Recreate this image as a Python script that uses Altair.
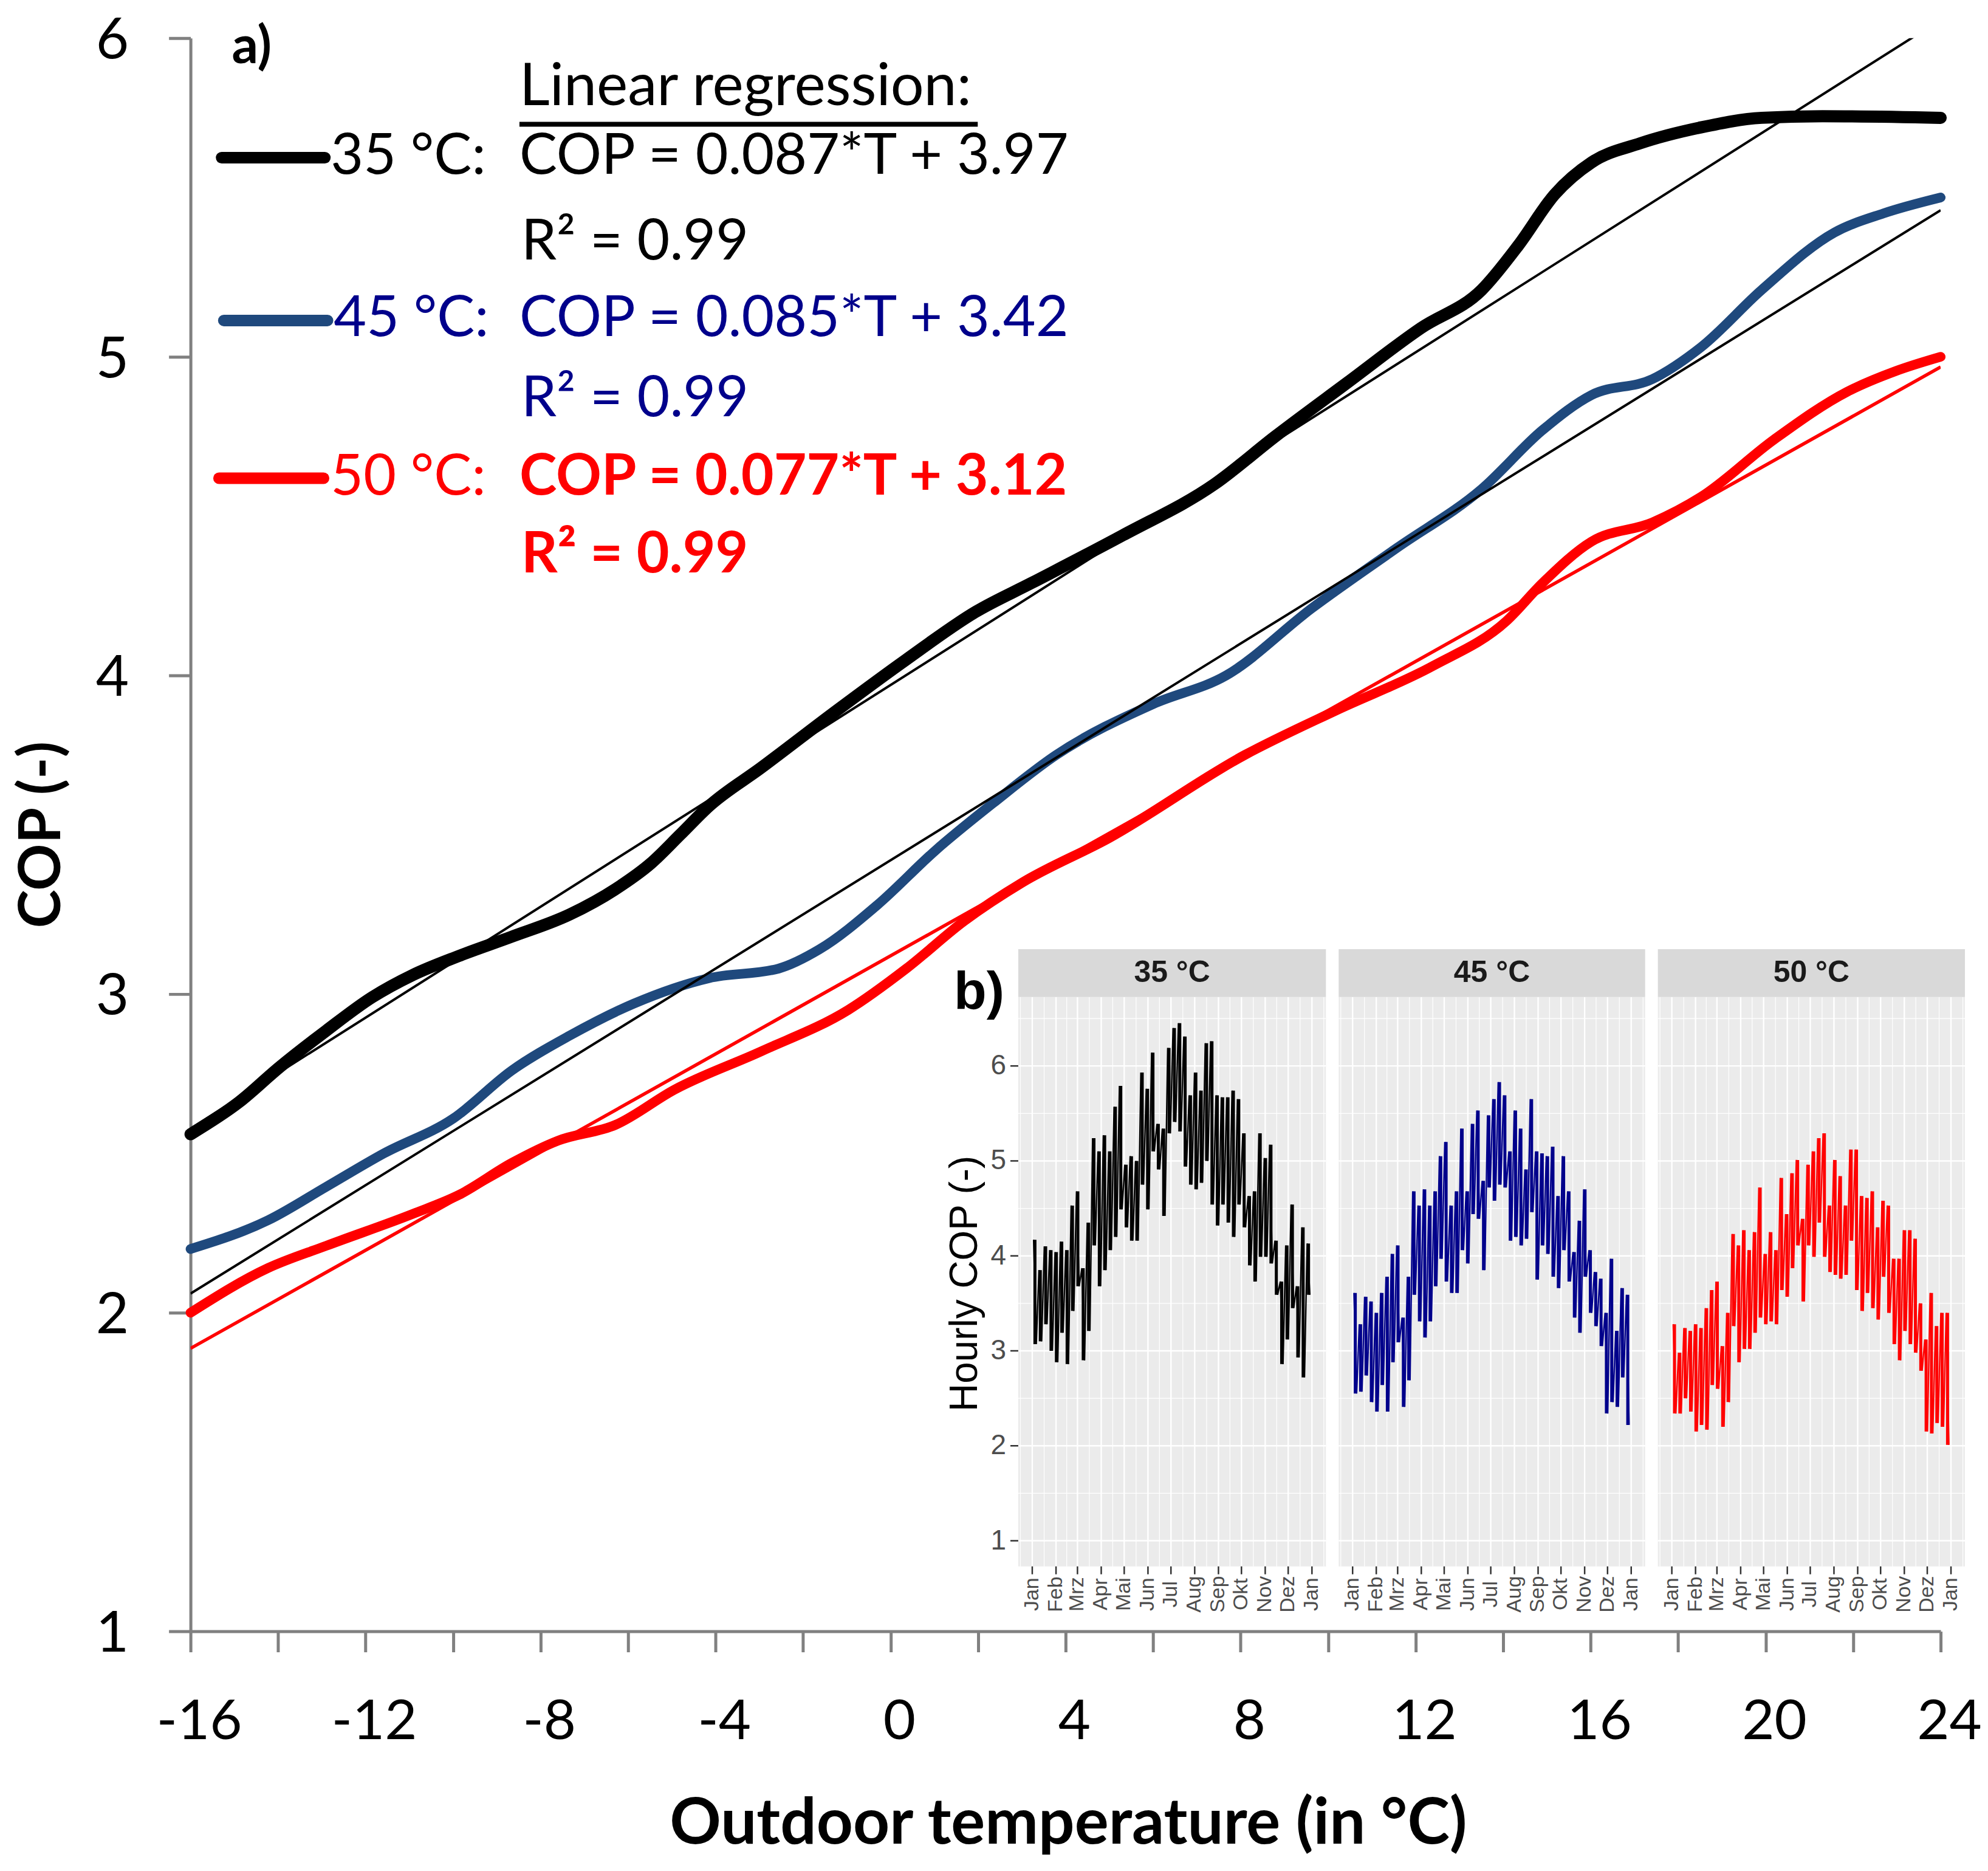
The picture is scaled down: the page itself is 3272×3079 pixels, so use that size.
import altair as alt
import pandas as pd

# ---------------- main panel a): COP curves ----------------
T35 = [-16, -14.9, -13.97, -12.9, -11.85, -10.92, -9.86, -8.66, -7.33, -6.28, -5.48, -4.81, -4.15,
       -2.96, -1.23, 0.36, 1.95, 3.22, 5.31, 7.40, 8.79, 10.45, 12.12, 13.51, 14.35, 15.18, 16.02,
       17.13, 18.52, 19.91, 21.30, 24]
COP35 = [2.56, 2.66, 2.77, 2.885, 2.99, 3.06, 3.12, 3.18, 3.25, 3.33, 3.41, 3.50, 3.59,
         3.71, 3.89, 4.05, 4.20, 4.29, 4.44, 4.60, 4.75, 4.92, 5.09, 5.21, 5.35, 5.51, 5.61,
         5.67, 5.72, 5.75, 5.755, 5.75]

T45 = [-16, -14.23, -12.9, -11.58, -9.99, -8.66, -7.33, -5.87, -4.15, -2.56, -1.63, -0.30, 1.02,
       2.35, 3.78, 6.0, 7.67, 9.62, 11.57, 13.51, 14.90, 16.02, 17.41, 18.52, 19.91, 21.57, 22.69, 24]
COP45 = [2.20, 2.29, 2.395, 2.50, 2.61, 2.76, 2.87, 2.97, 3.05, 3.08, 3.14, 3.28, 3.45,
         3.60, 3.75, 3.91, 4.00, 4.21, 4.40, 4.585, 4.77, 4.88, 4.93, 5.03, 5.21, 5.39, 5.45, 5.50]

T50 = [-16, -14.23, -12.9, -10.92, -9.86, -8.66, -7.6, -6.28, -4.94, -2.96, -0.97, 0.36, 1.69,
       3.01, 5.0, 8.09, 10.18, 12.40, 14.07, 14.90, 16.02, 17.41, 18.52, 20.19, 21.86, 22.97, 24]
COP50 = [2.00, 2.14, 2.21, 2.31, 2.37, 2.47, 2.54, 2.59, 2.70, 2.82, 2.95, 3.08, 3.23,
         3.35, 3.49, 3.75, 3.89, 4.03, 4.17, 4.29, 4.42, 4.48, 4.56, 4.74, 4.89, 4.955, 5.00]

series = ["35 °C", "45 °C", "50 °C"]
slopes = [0.087, 0.085, 0.077]
intercepts = [3.97, 3.42, 3.12]
r2 = [0.99, 0.99, 0.99]
T_range = [-16, 24]

x_ticks = list(range(-16, 25, 2))
y_ticks = [1, 2, 3, 4, 5, 6]

# ---------------- inset b): weekly max / min of the hourly COP ----------------
hi35 = [4.17, 3.85, 4.10, 4.06, 4.04, 4.15, 4.06, 4.53, 4.68, 3.87, 4.35, 5.24, 5.10, 5.27, 5.10,
        5.57, 5.79, 4.96, 5.05, 5.00, 5.93, 5.76, 6.14, 5.39, 5.34, 6.19, 6.40, 6.45, 6.31, 5.69,
        5.93, 5.74, 6.24, 6.26, 5.69, 5.67, 5.67, 5.74, 5.65, 5.29, 4.63, 4.68, 5.29, 5.03, 5.17,
        4.16, 3.73, 4.11, 4.54, 3.68, 4.30, 4.13]
lo35 = [3.07, 3.10, 3.28, 3.00, 2.88, 3.19, 2.86, 3.42, 3.68, 2.90, 3.21, 4.11, 3.68, 3.85, 4.06,
        4.20, 4.49, 4.30, 4.16, 4.16, 4.75, 4.49, 5.10, 4.91, 4.42, 5.29, 5.41, 5.31, 4.94, 4.75,
        4.70, 4.77, 5.00, 4.54, 4.32, 4.54, 4.35, 4.20, 4.54, 4.30, 3.90, 3.73, 3.99, 3.99, 3.92,
        3.59, 2.86, 3.12, 3.45, 2.93, 2.72, 3.59]
hi45 = [3.61, 3.28, 3.57, 3.52, 3.40, 3.61, 3.78, 4.02, 4.11, 3.35, 3.78, 4.68, 4.53, 4.70, 4.53,
        4.68, 5.05, 5.20, 4.53, 4.68, 5.34, 4.68, 5.39, 5.53, 4.79, 5.48, 5.65, 5.83, 5.69, 5.10,
        5.53, 5.34, 4.91, 5.65, 5.10, 5.08, 5.05, 5.15, 4.63, 5.05, 4.68, 4.04, 4.37, 4.70, 4.06,
        3.83, 3.76, 3.40, 3.97, 3.21, 3.66, 3.59]
lo45 = [2.55, 2.57, 2.74, 2.46, 2.36, 2.64, 2.36, 2.88, 3.09, 2.41, 2.69, 3.59, 3.31, 3.14, 3.31,
        3.68, 3.97, 3.73, 3.61, 3.61, 4.06, 3.92, 4.44, 4.39, 3.85, 4.72, 4.58, 4.75, 4.72, 4.16,
        4.20, 4.11, 4.18, 4.46, 3.75, 4.11, 4.02, 3.78, 3.66, 4.06, 3.73, 3.35, 3.19, 3.78, 3.40,
        3.26, 3.05, 2.34, 2.46, 2.41, 2.72, 2.22]
hi50 = [3.28, 2.98, 3.24, 3.21, 3.28, 3.24, 3.45, 3.64, 3.73, 3.05, 3.40, 4.23, 4.11, 4.27, 4.06,
        4.25, 4.72, 4.02, 4.25, 4.06, 4.82, 4.44, 4.87, 5.01, 4.39, 4.96, 5.10, 5.24, 5.29, 4.53,
        5.01, 4.84, 4.53, 5.12, 5.12, 4.63, 4.61, 4.68, 4.30, 4.58, 4.53, 3.97, 3.97, 4.27, 4.27,
        4.18, 3.50, 3.12, 3.61, 3.26, 3.40, 3.40]
lo50 = [2.34, 2.34, 2.50, 2.36, 2.15, 2.22, 2.17, 2.64, 2.60, 2.20, 2.46, 3.26, 2.88, 3.02, 3.02,
        3.19, 3.35, 3.28, 3.31, 3.28, 3.64, 3.57, 3.87, 4.11, 3.52, 4.11, 3.99, 4.35, 3.99, 3.83,
        3.80, 3.76, 3.80, 4.16, 3.64, 3.42, 3.61, 3.45, 3.33, 3.78, 3.40, 3.07, 2.90, 3.21, 3.07,
        2.98, 2.79, 2.15, 2.13, 2.24, 2.20, 2.01]

months = ["Jan", "Feb", "Mrz", "Apr", "Mai", "Jun", "Jul", "Aug", "Sep", "Okt", "Nov", "Dez", "Jan"]
month_start = [0, 31, 59, 90, 120, 151, 181, 212, 243, 273, 304, 334, 365]
inset_y_ticks = [1, 2, 3, 4, 5, 6]

# ---------------- styles / layout ----------------
FONT = "Lato"
IFONT = "Liberation Sans"
BLACK, BLUE, RED = "#000000", "#1F497D", "#FF0000"
NAVY = "#00008B"
GRAY = "#808080"

W, H = 2884, 2625


def xs():
    return alt.Scale(domain=T_range, range=[0, W], nice=False, zero=False)


def ys():
    return alt.Scale(domain=[1, 6], range=[H, 0], nice=False, zero=False)


def X(f, axis=None):
    return alt.X(f, type="quantitative", scale=xs(), axis=axis)


def Y(f, axis=None):
    return alt.Y(f, type="quantitative", scale=ys(), axis=axis)


x_axis = alt.Axis(
    values=x_ticks, labelExpr="datum.value % 4 == 0 ? toString(datum.value) : ''",
    orient="bottom",
    domainColor=GRAY, domainWidth=5, tickColor=GRAY, tickWidth=5, tickSize=34,
    labelFont=FONT, labelFontSize=92, labelColor="black", labelPadding=70, labelOffset=14,
    labelFlush=False, labelOverlap=False, grid=False,
    title="Outdoor temperature (in °C)", titleFont=FONT, titleFontSize=105, titleFontWeight="bold",
    titleColor="black", titleX=1446, titleY=349, titleAlign="center", titleBaseline="alphabetic")
y_axis = alt.Axis(
    values=y_ticks, format="d", orient="left",
    domainColor=GRAY, domainWidth=5, tickColor=GRAY, tickWidth=5, tickSize=36,
    labelFont=FONT, labelFontSize=94, labelColor="black", labelPadding=66, labelOffset=5,
    labelFlush=False, labelOverlap=False, grid=False,
    title="COP (-)", titleFont=FONT, titleFontSize=96, titleFontWeight="bold", titleColor="black",
    titleAngle=270, titleX=-244, titleY=1312, titleAlign="center", titleBaseline="middle")


def curve(T, C, color, width, axes=False):
    df = pd.DataFrame({"T": T, "COP": C})
    return alt.Chart(df).mark_line(color=color, strokeWidth=width, interpolate="monotone",
                                   strokeCap="round").encode(
        x=X("T", x_axis if axes else None), y=Y("COP", y_axis if axes else None))


curves = [curve(T35, COP35, BLACK, 20, True), curve(T45, COP45, BLUE, 16), curve(T50, COP50, RED, 16)]

reg_colors = [BLACK, BLACK, RED]
reg_widths = [4, 4, 5.5]
regs = []
for s, b, c, w in zip(slopes, intercepts, reg_colors, reg_widths):
    df = pd.DataFrame({"T": T_range, "COP": [s * t + b for t in T_range]})
    regs.append(alt.Chart(df).mark_line(color=c, strokeWidth=w, clip=True).encode(x=X("T"), y=Y("COP")))

# annotation (legend) block, positions in data units
leg_line = pd.DataFrame({"T": [-15.29, -15.24, -15.35], "T2": [-12.93, -12.87, -12.96],
                         "COP": [5.625, 5.114, 4.619], "c": [BLACK, BLUE, RED]})
leg_lines = alt.Chart(leg_line).mark_rule(strokeWidth=19, strokeCap="round").encode(
    x=X("T"), x2="T2", y=Y("COP"), color=alt.Color("c:N", scale=None))

underline = alt.Chart(pd.DataFrame({"T": [-8.483], "T2": [1.992], "COP": [5.73]})).mark_rule(
    strokeWidth=8, color="black").encode(x=X("T"), x2="T2", y=Y("COP"))


def text_layer(rows, color, weight="normal", size=93):
    df = pd.DataFrame(rows, columns=["T", "COP", "label"])
    return alt.Chart(df).mark_text(align="left", baseline="alphabetic", font=FONT, fontSize=size,
                                   fontWeight=weight, color=color).encode(
        x=X("T"), y=Y("COP"), text="label:N")


eq = [f"COP = {s}*T + {b}" for s, b in zip(slopes, intercepts)]
rr = [f"R² = {v}" for v in r2]
texts = [
    text_layer([[-15.057, 5.922, "a)"]], "black", "bold", 86),
    text_layer([[-8.483, 5.79, "Linear regression:"]], "black", "normal", 97),
    text_layer([[-12.796, 5.575, series[0] + ":"], [-8.483, 5.575, eq[0]], [-8.441, 5.305, rr[0]]], "black"),
    text_layer([[-12.727, 5.065, series[1] + ":"], [-8.483, 5.065, eq[1]], [-8.441, 4.813, rr[1]]], NAVY),
    text_layer([[-12.796, 4.568, series[2] + ":"]], RED),
    text_layer([[-8.483, 4.568, eq[2]], [-8.441, 4.324, rr[2]]], RED, "bold"),
]

main_layers = [*curves, *regs, leg_lines, underline, *texts]

# ---------------- inset b) panels ----------------
PANEL_X = [(1364, 1871), (1892, 2397), (2418, 2924)]
XDOM = [-18.25, 383.25]
YDOM = [0.73, 6.725]
YRANGE = [2518, 1580]
STRIP = [6.725, 7.23]


def panel(i, hi, lo, color, label):
    def PX(f):
        return alt.X(f, type="quantitative", axis=None,
                     scale=alt.Scale(domain=XDOM, range=list(PANEL_X[i]), nice=False, zero=False))

    def PY(f):
        return alt.Y(f, type="quantitative", axis=None,
                     scale=alt.Scale(domain=YDOM, range=YRANGE, nice=False, zero=False))

    layers = []
    bg = pd.DataFrame({"x0": [XDOM[0]], "x1": [XDOM[1]], "y0": [YDOM[0]], "y1": [YDOM[1]]})
    layers.append(alt.Chart(bg).mark_rect(color="#EBEBEB").encode(x=PX("x0"), x2="x1", y=PY("y0"), y2="y1"))

    minor_x = [-15.5] + [(a + b) / 2 for a, b in zip(month_start[:-1], month_start[1:])] + [380.5]
    minor_y = [v + 0.5 for v in inset_y_ticks]
    for vals, w in [(minor_x, 1.2), (month_start, 2.4)]:
        g = pd.DataFrame({"d": vals, "y0": YDOM[0], "y1": YDOM[1]})
        layers.append(alt.Chart(g).mark_rule(color="white", strokeWidth=w).encode(
            x=PX("d"), y=PY("y0"), y2="y1"))
    for vals, w in [(minor_y, 1.2), (inset_y_ticks, 2.4)]:
        g = pd.DataFrame({"v": vals, "x0": XDOM[0], "x1": XDOM[1]})
        layers.append(alt.Chart(g).mark_rule(color="white", strokeWidth=w).encode(
            x=PX("x0"), x2="x1", y=PY("v")))

    wk = pd.DataFrame({"day": [7 * k + 3.5 for k in range(len(hi))], "hi": hi, "lo": lo})
    layers.append(alt.Chart(wk).mark_rule(color=color, strokeWidth=5).encode(
        x=PX("day"), y=PY("lo"), y2="hi"))
    rows = []
    for k, (h, l) in enumerate(zip(hi, lo)):
        rows.append((7 * k + 1.75, h))
        rows.append((7 * k + 5.25, l))
    ld = pd.DataFrame(rows, columns=["day", "cop"])
    layers.append(alt.Chart(ld).mark_line(color=color, strokeWidth=2.4).encode(x=PX("day"), y=PY("cop")))

    st = pd.DataFrame({"x0": [XDOM[0]], "x1": [XDOM[1]], "y0": [STRIP[0]], "y1": [STRIP[1]]})
    layers.append(alt.Chart(st).mark_rect(color="#D9D9D9").encode(x=PX("x0"), x2="x1", y=PY("y0"), y2="y1"))
    layers.append(alt.Chart(pd.DataFrame({"d": [182.5], "v": [6.977], "t": [label]})).mark_text(
        font=IFONT, fontSize=50, fontWeight="bold", color="#1A1A1A", baseline="middle", align="center").encode(
        x=PX("d"), y=PY("v"), text="t:N"))

    tk = pd.DataFrame({"d": month_start, "y0": YDOM[0], "y1": YDOM[0] - 13 / 156.5, "m": months, "yl": 0.436})
    layers.append(alt.Chart(tk).mark_rule(color="#333333", strokeWidth=2.5).encode(x=PX("d"), y=PY("y0"), y2="y1"))
    layers.append(alt.Chart(tk).mark_text(font=IFONT, fontSize=34, color="#4D4D4D", angle=270,
                                          align="center", baseline="middle").encode(
        x=PX("d"), y=PY("yl"), text="m:N"))

    if i == 0:
        yt = pd.DataFrame({"v": inset_y_ticks, "x0": -28.54, "x1": XDOM[0], "xl": -34.09,
                           "t": [str(v) for v in inset_y_ticks]})
        layers.append(alt.Chart(yt).mark_rule(color="#333333", strokeWidth=2.5).encode(
            x=PX("x0"), x2="x1", y=PY("v")))
        layers.append(alt.Chart(yt).mark_text(font=IFONT, fontSize=46, color="#4D4D4D", align="right",
                                              baseline="middle").encode(x=PX("xl"), y=PY("v"), text="t:N"))
        layers.append(alt.Chart(pd.DataFrame({"d": [-87.2], "v": [3.708], "t": ["Hourly COP (-)"]})).mark_text(
            font=IFONT, fontSize=64, color="black", angle=270, align="center", baseline="middle").encode(
            x=PX("d"), y=PY("v"), text="t:N"))
        layers.append(alt.Chart(pd.DataFrame({"d": [-102.2], "v": [6.602], "t": ["b)"]})).mark_text(
            font=IFONT, fontSize=88, fontWeight="bold", color="black", align="left",
            baseline="alphabetic").encode(x=PX("d"), y=PY("v"), text="t:N"))
    return layers


inset_layers = (panel(0, hi35, lo35, BLACK, series[0]) + panel(1, hi45, lo45, NAVY, series[1])
                + panel(2, hi50, lo50, RED, series[2]))

chart = alt.layer(*main_layers, *inset_layers).resolve_scale(x="independent", y="independent").properties(
    width=W, height=H,
    autosize=alt.AutoSizeParams(type="none"),
    padding={"left": 306, "top": 53, "right": 70, "bottom": 380},
    background="white",
).configure_view(strokeWidth=0)

chart.save("out.html", embed_options={"renderer": "svg", "actions": False})
